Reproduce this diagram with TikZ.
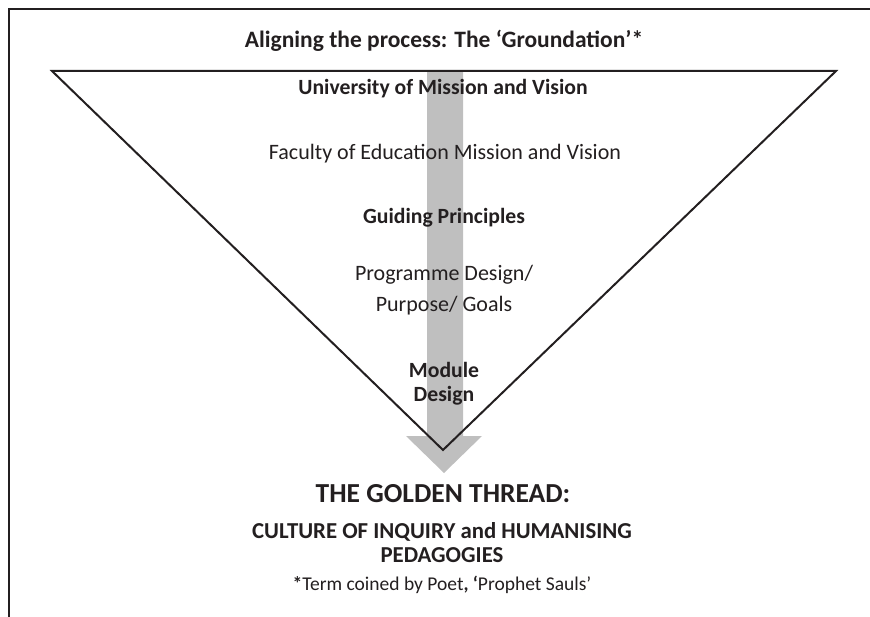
\documentclass[tikz,border=0pt]{standalone}
\usepackage{fontspec}
\setmainfont{Carlito}
\definecolor{arrowgray}{HTML}{BFBFBF}
\definecolor{txt}{HTML}{231F20}
\begin{document}
\begin{tikzpicture}[x=1pt,y=-1pt,
  lbl/.style={font=\fontsize{22}{26}\selectfont, text=txt, align=center, inner sep=0pt},
  blbl/.style={lbl, font=\fontsize{21.7}{24}\selectfont\bfseries},
  frame/.style={line width=2pt, draw=txt},
  tri/.style={line width=2pt, draw=txt, line join=miter}]
\useasboundingbox (0,0) rectangle (870,617);
% frame
\draw[frame] (9,617) -- (9,9) -- (870,9);
% arrow
\fill[arrowgray] (427,72) -- (463,72) -- (463,436) -- (482,436) -- (444,473) -- (406,436) -- (427,436) -- cycle;
% triangle
\coordinate (tl) at (52,71);
\coordinate (tr) at (836,71);
\coordinate (ap) at (443,450);
\draw[tri] (tl) -- (tr) -- (ap) -- cycle;
% texts
\node[blbl, font=\fontsize{23.5}{28}\selectfont\bfseries] (title) at (444,41) {Aligning the process: The ‘Groundation’*};
\node[blbl] (uni) at (443,89) {University of Mission and Vision};
\node[lbl] (fac) at (445,154) {Faculty of Education Mission and Vision};
\node[blbl] (gp) at (444,218) {Guiding Principles};
\node[lbl] (prog) at (444,290) {Programme Design/\\[5pt]Purpose/ Goals};
\node[blbl] (mod) at (444,384) {Module\\Design};
\node[lbl, font=\fontsize{27.5}{32}\selectfont\bfseries] (gold) at (443,494) {THE GOLDEN THREAD:};
\node[blbl, font=\fontsize{22.8}{24}\selectfont\bfseries] (cult) at (442,543) {CULTURE OF INQUIRY and HUMANISING\\PEDAGOGIES};
\node[lbl, font=\fontsize{19.5}{23}\selectfont] (term) at (442,585) {\textbf{*}Term coined by Poet\textbf{,} \textbf{‘}Prophet Sauls’};
\end{tikzpicture}
\end{document}
